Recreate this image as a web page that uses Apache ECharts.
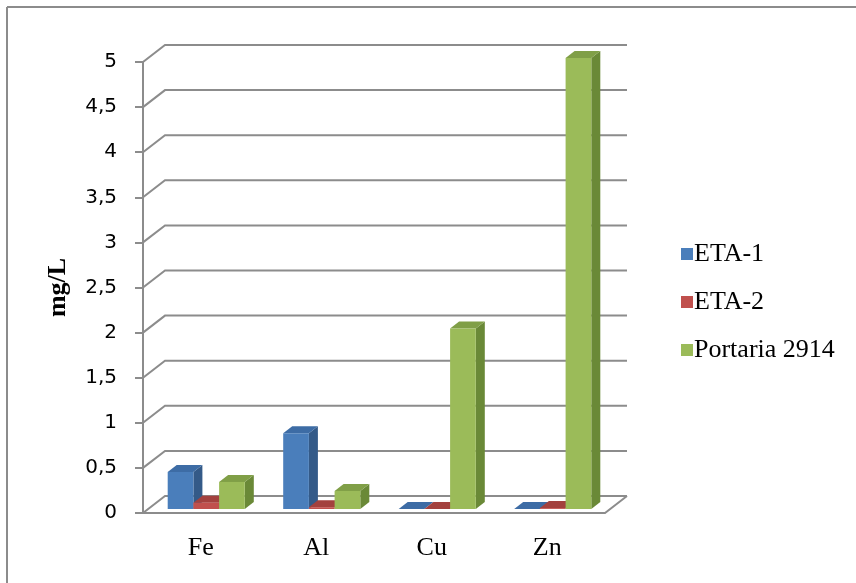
<!DOCTYPE html>
<html>
<head>
<meta charset="utf-8">
<script src="https://cdn.jsdelivr.net/npm/echarts@6/dist/echarts.min.js"></script>
<style>
  html, body { margin: 0; padding: 0; background: #fff; }
  #chart { width: 856px; height: 583px; }
</style>
</head>
<body>
<div id="chart"></div>
<script>
// Metal concentrations (mg/L) per element
const categories = ['Fe', 'Al', 'Cu', 'Zn'];
const eta1 = [0.41, 0.84, 0, 0];
const eta2 = [0.07, 0.02, 0, 0.01];
const portaria = [0.3, 0.2, 2, 5];
const seriesNames = ['ETA-1', 'ETA-2', 'Portaria 2914'];

// Value axis range
const yMin = 0, yMax = 5, yStep = 0.5;
const yTicks = [];
for (let v = yMin; v <= yMax + 1e-9; v += yStep) yTicks.push(+v.toFixed(2));

// Pseudo-3D geometry (pixels)
const WALL_DX = 22, WALL_DY = -17;   // depth of the floor / back wall
const BAR_OX = 5.5, BAR_OY = -4;     // where the bar fronts sit in depth
const BAR_DX = 9, BAR_DY = -7;       // depth of each bar
const BAR_FRAC = 0.2225;             // bar width as a share of the category band

// front, top, side shades for each series
const shades = [
  ['#4A7EBB', '#3D6CA5', '#345A88'],
  ['#C0504D', '#A3413E', '#8C3836'],
  ['#9BBB59', '#809F47', '#6A8937']
];
const GRID_COLOR = '#8C8C8C';

function wallRender(params, api) {
  const cs = params.coordSys;
  const v = api.value(0);
  const y = api.coord([0, v])[1];
  const x0 = cs.x, x1 = cs.x + cs.width;
  const children = [{
    type: 'polyline',
    shape: { points: [[x0, y], [x0 + WALL_DX, y + WALL_DY], [x1 + WALL_DX, y + WALL_DY]] },
    style: { stroke: GRID_COLOR, lineWidth: 2, fill: null }
  }];
  if (v === yMin) {
    // floor front edge and right edge
    children.push({
      type: 'polyline',
      shape: { points: [[x0, y], [x1, y], [x1 + WALL_DX, y + WALL_DY]] },
      style: { stroke: GRID_COLOR, lineWidth: 2, fill: null }
    });
  }
  return { type: 'group', children };
}

function makeBarRender(sIdx) {
  return function (params, api) {
    const i = api.value(0);
    const v = api.value(1);
    const base = api.coord([i, 0]);
    const top = api.coord([i, v]);
    const band = api.size([1, 0])[0];
    const bw = band * BAR_FRAC;
    const left = base[0] + BAR_OX - 1.5 * bw + sIdx * bw;
    const right = left + bw;
    const yb = base[1] + BAR_OY;
    const yt = top[1] + BAR_OY;
    const c = shades[sIdx];
    return {
      type: 'group',
      children: [
        { type: 'polygon',
          shape: { points: [[right, yt], [right, yb], [right + BAR_DX, yb + BAR_DY], [right + BAR_DX, yt + BAR_DY]] },
          style: { fill: c[2] } },
        { type: 'polygon',
          shape: { points: [[left, yt], [right, yt], [right + BAR_DX, yt + BAR_DY], [left + BAR_DX, yt + BAR_DY]] },
          style: { fill: c[1] } },
        { type: 'rect',
          shape: { x: left, y: yt, width: bw, height: Math.max(yb - yt, 0) },
          style: { fill: c[0] } }
      ]
    };
  };
}

const seriesValues = [eta1, eta2, portaria];

const option = {
  animation: false,
  backgroundColor: '#fff',
  grid: { left: 143, right: 251, top: 62, bottom: 70 },
  xAxis: {
    type: 'category',
    data: categories,
    axisLine: { show: false },
    axisTick: { show: false },
    axisLabel: { margin: 22, color: '#000', fontFamily: 'Liberation Serif', fontSize: 26 }
  },
  yAxis: {
    type: 'value',
    min: yMin, max: yMax, interval: yStep,
    name: 'mg/L',
    nameLocation: 'middle',
    nameGap: 72,
    nameRotate: 90,
    nameTextStyle: { color: '#000', fontFamily: 'Liberation Serif', fontWeight: 'bold', fontSize: 26 },
    axisLine: { show: true, lineStyle: { color: GRID_COLOR, width: 2 } },
    axisTick: { show: true, length: 8, lineStyle: { color: GRID_COLOR, width: 2 } },
    splitLine: { show: false },
    axisLabel: {
      margin: 26, color: '#000', fontFamily: 'DejaVu Sans', fontSize: 20,
      formatter: v => String(v).replace('.', ',')
    }
  },
  legend: {
    orient: 'vertical',
    left: 676, top: 236,
    itemWidth: 12, itemHeight: 12,
    itemGap: 22,
    icon: 'rect',
    data: seriesNames,
    textStyle: { color: '#000', fontFamily: 'Liberation Serif', fontSize: 26, lineHeight: 24, padding: [0, 0, 0, -4] }
  },
  graphic: [
    { type: 'line', shape: { x1: 7, y1: 583, x2: 7, y2: 7 }, style: { stroke: '#8C8C8C', lineWidth: 2 } },
    { type: 'line', shape: { x1: 7, y1: 7, x2: 856, y2: 7 }, style: { stroke: '#8C8C8C', lineWidth: 2 } }
  ],
  series: [
    {
      type: 'custom',
      name: 'walls',
      renderItem: wallRender,
      data: yTicks.map(v => [v]),
      encode: { y: 0 },
      z: 1,
      silent: true
    }
  ].concat(seriesNames.map((name, s) => ({
    type: 'custom',
    name,
    itemStyle: { color: shades[s][0] },
    renderItem: makeBarRender(s),
    data: seriesValues[s].map((v, i) => [i, v]),
    encode: { x: 0, y: 1 },
    z: 2
  })))
};

echarts.init(document.getElementById('chart'), null, { renderer: 'canvas' }).setOption(option);
</script>
</body>
</html>
